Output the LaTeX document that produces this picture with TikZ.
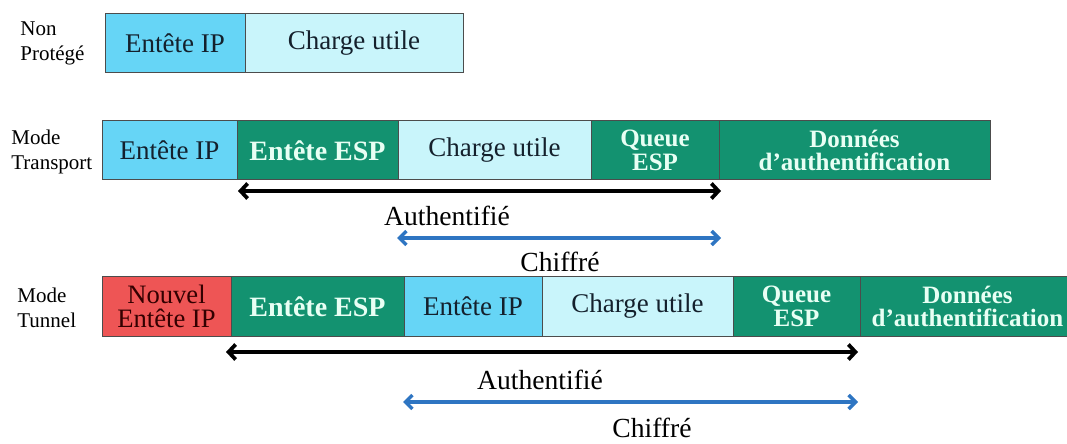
\documentclass[tikz,border=0pt]{standalone}
\usepackage{fontspec}
\setmainfont{Liberation Serif}
\usepackage{xcolor}
\usepackage{tikz}
\usetikzlibrary{arrows.meta,positioning}
\definecolor{ipblue}{HTML}{66D5F6}
\definecolor{paycyan}{HTML}{C9F5FB}
\definecolor{espgreen}{HTML}{139270}
\definecolor{newred}{HTML}{EE5555}
\definecolor{darktext}{HTML}{14202C}
\definecolor{mint}{HTML}{E8FFF4}
\definecolor{chifblue}{HTML}{2E75C2}
\tikzset{
  pkbox/.style={
    draw=black!70, line width=0.5pt, minimum height=29.5pt,
    inner sep=1pt, align=center, text=darktext,
    font=\fontsize{13.5}{12.5}\selectfont
  },
  ipbox/.style={pkbox,fill=ipblue},
  paybox/.style={pkbox,fill=paycyan},
  newipbox/.style={pkbox,fill=newred,text=black!80!red,font=\fontsize{13.3}{12.2}\selectfont},
  espbox/.style={pkbox,fill=espgreen,text=mint,font=\fontsize{14}{12.5}\selectfont\bfseries},
  esptail/.style={espbox,font=\fontsize{12.5}{11.8}\selectfont\bfseries},
  rowlabel/.style={anchor=west,align=left,inner sep=0pt,font=\fontsize{10.5}{12.2}\selectfont},
  authedge/.style={{Straight Barb[length=3.5pt,width=7.5pt]}-{Straight Barb[length=3.5pt,width=7.5pt]},line width=1.9pt,black},
  chifedge/.style={{Straight Barb[length=3.5pt,width=7pt]}-{Straight Barb[length=3.5pt,width=7pt]},line width=1.7pt,chifblue},
  zonelabel/.style={font=\fontsize{13.8}{14}\selectfont,inner sep=1pt}
}
\begin{document}
\begin{tikzpicture}[x=0.5pt,y=-0.5pt]
\useasboundingbox (0,0) rectangle (1067,444);

% non protege
\node[rowlabel] (lnon) at (20,43.5) {Non\\Protégé};
\node[ipbox,minimum width=70pt] (nip) at (175,43.5) {Entête IP};
\node[paybox,minimum width=109pt] (npay) at (354,43.5) {Charge utile};

% mode transport
\node[rowlabel] (ltra) at (11,152) {Mode\\Transport};
\node[ipbox,minimum width=67.5pt] (tip) at (169.5,150.5) {Entête IP};
\node[espbox,minimum width=80.5pt] (tesp) at (317.5,150.5) {Entête ESP};
\node[paybox,minimum width=96.5pt] (tpay) at (494.5,150.5) {Charge utile};
\node[esptail,minimum width=64pt] (ttail) at (655,150.5) {Queue\\ESP};
\node[esptail,minimum width=135.5pt] (tauth) at (854.5,150.5) {Données\\d’authentification};

\coordinate (ta0) at (238,191);
\coordinate (ta1) at (721,191);
\coordinate (tc0) at (397,238);
\coordinate (tc1) at (721,238);
\draw[authedge] (ta0) -- (ta1);
\node[zonelabel] (tauthl) at (447,216) {Authentifié};
\draw[chifedge] (tc0) -- (tc1);
\node[zonelabel] (tchif) at (560,262) {Chiffré};

% mode tunnel
\node[rowlabel] (ltun) at (17,308) {Mode\\Tunnel};
\node[newipbox,minimum width=64.5pt] (unew) at (166.5,306.5) {Nouvel\\Entête IP};
\node[espbox,minimum width=86.5pt] (uesp) at (317.5,306.5) {Entête ESP};
\node[ipbox,minimum width=69pt] (uip) at (473,306.5) {Entête IP};
\node[paybox,minimum width=95.5pt] (upay) at (637.5,306.5) {Charge utile};
\node[esptail,minimum width=63.5pt] (utail) at (796.5,306.5) {Queue\\ESP};
\node[esptail,minimum width=107.5pt] (uauth) at (967.5,306.5) {Données\\d’authentification};

\coordinate (ua0) at (226,352);
\coordinate (ua1) at (858,352);
\coordinate (uc0) at (403,402);
\coordinate (uc1) at (858,402);
\draw[authedge] (ua0) -- (ua1);
\node[zonelabel] (uauthl) at (540,380) {Authentifié};
\draw[chifedge] (uc0) -- (uc1);
\node[zonelabel] (uchif) at (652,428) {Chiffré};
\end{tikzpicture}
\end{document}
